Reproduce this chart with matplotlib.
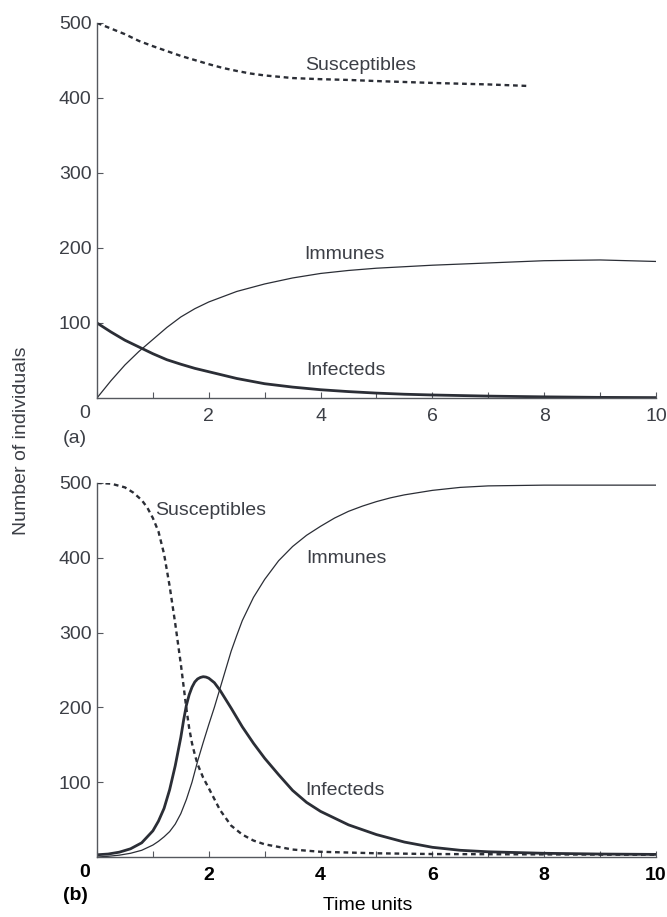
import matplotlib
matplotlib.use("Agg")
import matplotlib.pyplot as plt
from matplotlib.ticker import MultipleLocator

plt.rcParams['font.family'] = ['Liberation Sans', 'DejaVu Sans']

ink = "#2b2e36"
grey = "#3c3f46"

# (a) slow epidemic, 500 susceptibles and 100 infecteds at the start
t_sus_a = [0, 0.25, 0.5, 0.75, 1, 1.25, 1.5, 1.75, 2, 2.25, 2.5, 2.75, 3, 3.5, 4, 4.5, 5, 6, 7, 7.7]
sus_a = [500, 492.5, 485, 476, 469, 462.5, 456, 450.5, 445, 440, 436, 432.5, 430, 426.5, 425, 424, 422.5, 420, 418, 416]

t_a = [0, 0.25, 0.5, 0.75, 1, 1.25, 1.5, 1.75, 2, 2.5, 3, 3.5, 4, 4.5, 5, 5.5, 6, 7, 8, 9, 10]
inf_a = [100, 88, 77, 68, 59, 51, 45, 39.5, 35, 26, 19, 14.5, 11, 8.5, 6.5, 5, 4, 2.5, 1.5, 0.8, 0.5]
imm_a = [0, 23, 44, 62, 78, 94, 108, 119, 128, 142, 152, 160, 166, 170, 173, 175, 177, 180, 183, 184, 182]

# (b) fast epidemic, nearly all 500 susceptibles get infected
t_sus_b = [0, 0.25, 0.5, 0.65, 0.8, 0.9, 1.0, 1.1, 1.2, 1.3, 1.4, 1.5, 1.55, 1.6, 1.65, 1.7, 1.75,
           1.8, 1.9, 2.0, 2.2, 2.4, 2.6, 2.8, 3.0, 3.5, 4, 5, 6, 8, 10]
sus_b = [500, 499, 494, 487, 477, 467, 453, 435, 405, 362, 312, 258, 228, 198, 172, 152, 137,
         124, 106, 92, 63, 42, 30, 22, 17, 10, 7, 5, 4, 3.5, 3]

t_inf_b = [0, 0.2, 0.4, 0.6, 0.8, 1.0, 1.1, 1.2, 1.3, 1.4, 1.5, 1.55, 1.6, 1.65, 1.7, 1.75, 1.8,
           1.85, 1.9, 1.95, 2.0, 2.1, 2.2, 2.4, 2.6, 2.8, 3.0, 3.25, 3.5, 3.75, 4.0, 4.5, 5.0,
           5.5, 6.0, 6.5, 7, 8, 9, 10]
inf_b = [3, 4, 6.5, 11, 19, 35, 48, 65, 90, 122, 160, 183, 203, 217, 227, 234, 238,
         240, 241, 240.5, 239, 233, 223, 199, 174, 152, 132, 110, 89, 73, 61, 43, 30,
         20, 13, 9, 7, 5, 4, 3.5]

t_imm_b = [0, 0.2, 0.4, 0.6, 0.8, 1.0, 1.1, 1.2, 1.3, 1.4, 1.5, 1.6, 1.7, 1.8, 1.9, 2.0, 2.1, 2.2,
           2.3, 2.4, 2.5, 2.6, 2.8, 3.0, 3.25, 3.5, 3.75, 4.0, 4.25, 4.5, 4.75, 5.0, 5.25, 5.5,
           5.75, 6.0, 6.5, 7, 8, 9, 10]
imm_b = [0, 1, 2.5, 5, 9, 16, 21, 27, 34, 44, 58, 77, 100, 128, 153, 177, 200, 225,
         250, 275, 296, 316, 347, 371, 396, 415, 430, 442, 453, 462, 469, 475, 480, 484,
         487, 490, 494, 496, 497, 497, 497]

# curve labels: (text, x, y)
labels_a = [("Susceptibles", 3.73, 443), ("Immunes", 3.71, 191), ("Infecteds", 3.75, 37)]
labels_b = [("Susceptibles", 1.04, 463), ("Immunes", 3.75, 399), ("Infecteds", 3.73, 89)]

dash = (0, (2.0, 1.6))

fig = plt.figure(figsize=(6.67, 9.17), dpi=100)
ax_a = fig.add_axes([0.1454, 0.566, 0.838, 0.409])
ax_b = fig.add_axes([0.1454, 0.0654, 0.838, 0.408])


def style_axes(ax, bold):
    """Open axes with inward ticks, y every 100 and x every unit."""
    ax.set_xlim(0, 10)
    ax.set_ylim(0, 500)
    for side in ("top", "right"):
        ax.spines[side].set_visible(False)
    for side in ("left", "bottom"):
        ax.spines[side].set_color("#55585e")
        ax.spines[side].set_linewidth(1.0)
    ax.set_yticks([100, 200, 300, 400, 500])
    ax.set_xticks([0, 2, 4, 6, 8, 10])
    ax.set_xticklabels(["", "2", "4", "6", "8", "10"])
    ax.xaxis.set_minor_locator(MultipleLocator(1))
    ax.tick_params(which="both", direction="in", length=4, width=0.8, color="#55585e")
    ax.tick_params(axis="y", labelsize=14, labelcolor=grey, pad=4)
    ax.tick_params(axis="x", labelsize=14, pad=7,
                   labelcolor="black" if bold else grey)
    if bold:
        for lab in ax.get_xticklabels():
            lab.set_fontweight("bold")
    # shared zero of both axes, set off below the corner
    ax.annotate("0", xy=(0, 0), xytext=(-9, -11), textcoords="offset points",
                ha="center", va="center", fontsize=14,
                color="black" if bold else grey,
                fontweight="bold" if bold else "normal")


style_axes(ax_a, False)
style_axes(ax_b, True)

ax_a.plot(t_sus_a, sus_a, color=ink, lw=1.7, linestyle=dash)
ax_a.plot(t_a, imm_a, color=ink, lw=0.9)
ax_a.plot(t_a, inf_a, color=ink, lw=2.0)

ax_b.plot(t_sus_b, sus_b, color=ink, lw=1.7, linestyle=dash)
ax_b.plot(t_imm_b, imm_b, color=ink, lw=0.9)
ax_b.plot(t_inf_b, inf_b, color=ink, lw=2.0)

for ax, labels in ((ax_a, labels_a), (ax_b, labels_b)):
    for text, x, y in labels:
        ax.text(x, y, text, fontsize=14, color=grey, ha="left", va="center")

fig.text(75 / 667, 1 - 438 / 917, "(a)", fontsize=14, color=grey, ha="center", va="center")
fig.text(75 / 667, 1 - 895 / 917, "(b)", fontsize=14, color="black", fontweight="bold",
         ha="center", va="center")
fig.text(22 / 667, 1 - 441 / 917, "Number of individuals", fontsize=14, color=grey,
         rotation=90, ha="center", va="center")
fig.text(368 / 667, 1 - 905 / 917, "Time units", fontsize=14, color="black",
         ha="center", va="center")

fig.savefig("out.png", dpi=100)
